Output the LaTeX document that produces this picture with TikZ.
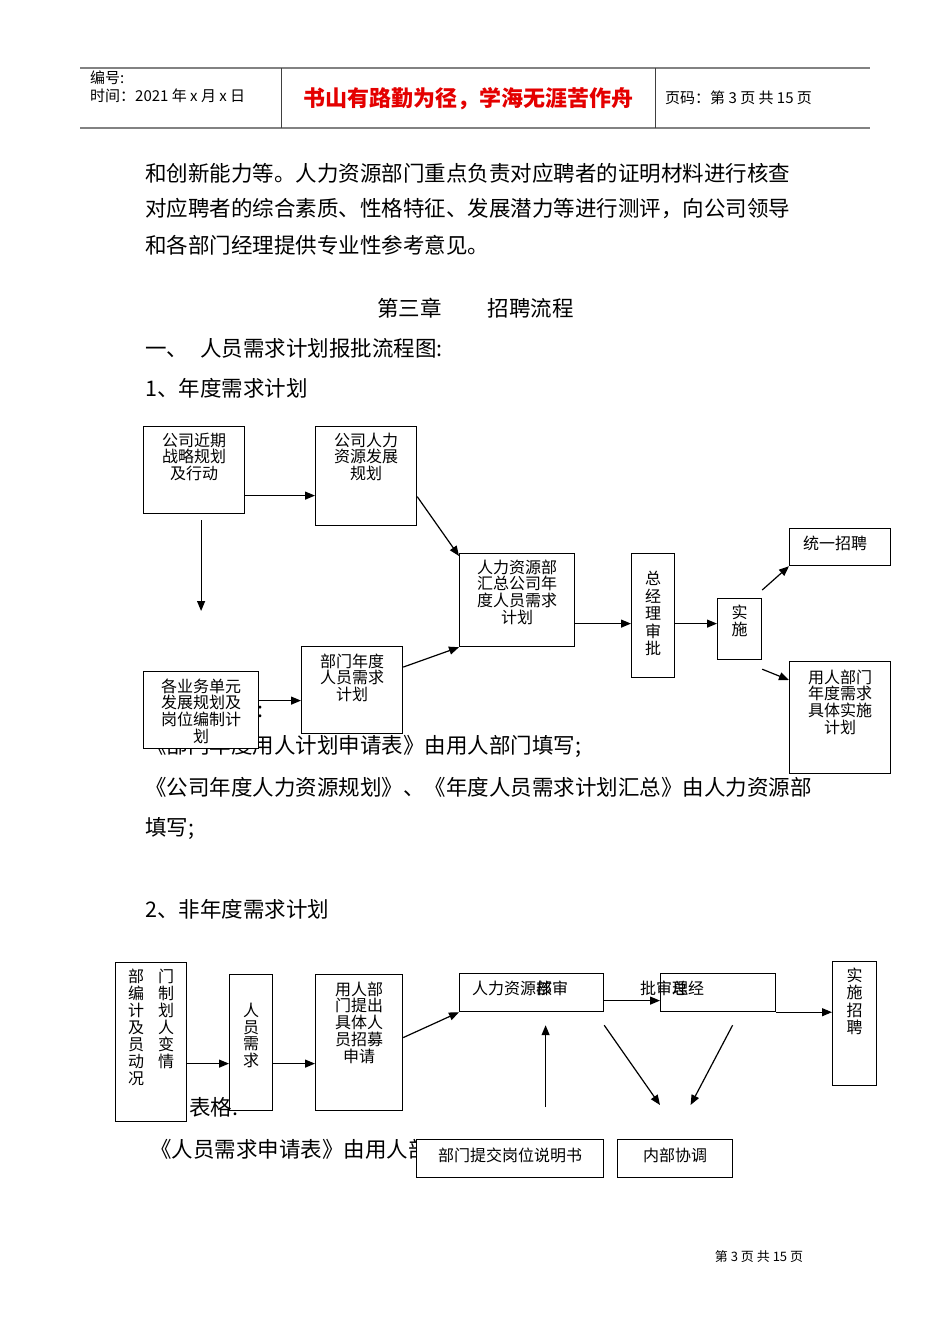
\documentclass[tikz,border=0pt]{standalone}
\usepackage{fontspec}
\setmainfont{Noto Sans CJK SC}
\usetikzlibrary{arrows.meta}
\usetikzlibrary{calc}

\definecolor{mottored}{RGB}{228,0,0}
\definecolor{rulegray}{RGB}{130,130,130}

\begin{document}
\begin{tikzpicture}[x=1pt,y=-1pt,
    body/.style={anchor=west,inner sep=0pt,font=\fontsize{21.5pt}{36pt}\selectfont},
    box/.style={draw,fill=white,line width=1.2pt,anchor=north west,inner sep=0pt},
    inbox/.style={anchor=north,align=center,inner sep=0pt,font=\fontsize{16pt}{16.7pt}\selectfont},
    upright/.style={inbox,font=\fontsize{16pt}{17.5pt}\selectfont},
    arr/.style={-{Triangle[length=10pt,width=8pt]},line width=1.2pt}]

    \fill[white] (0,0) rectangle (950,1344);
    \useasboundingbox (0,0) rectangle (950,1344);

    % page header
    \draw[rulegray,line width=2pt] (80,68) -- (870,68);
    \draw[rulegray,line width=2pt] (80,128) -- (870,128);
    \draw[darkgray,line width=1pt] (281,68) -- (281,128);
    \draw[darkgray,line width=1pt] (655,68) -- (655,128);
    \node[anchor=west,inner sep=0pt,font=\fontsize{15pt}{15pt}\selectfont] (serial) at (90,78) {编号:};
    \node[anchor=west,inner sep=0pt,font=\fontsize{15pt}{15pt}\selectfont] (datestamp) at (90,96) {时间：2021 年 x 月 x 日};
    \node[inner sep=0pt,text=mottored,font=\fontsize{22pt}{22pt}\selectfont\bfseries] (motto) at (468,99) {书山有路勤为径，学海无涯苦作舟};
    \node[anchor=west,inner sep=0pt,font=\fontsize{15pt}{15pt}\selectfont] (pageno) at (665,98) {页码：第 3 页 共 15 页};

    % running text
    \node[body] (para1) at (145,173) {和创新能力等。人力资源部门重点负责对应聘者的证明材料进行核查};
    \node[body] (para2) at (145,209) {对应聘者的综合素质、性格特征、发展潜力等进行测评，向公司领导};
    \node[body] (para3) at (145,245) {和各部门经理提供专业性参考意见。};
    \node[body] (chapter) at (377,308) {第三章\hspace{46pt}招聘流程};
    \node[body] (section) at (145,348) {一、\hspace{12pt}人员需求计划报批流程图:};
    \node[body] (item1) at (145,388) {1、年度需求计划};
    \node[body,anchor=east] (tablenote1) at (264,709) {表格:};
    \node[body] (form1) at (145,746) {《部门年度用人计划申请表》由用人部门填写;};
    \node[body] (form2) at (145,787) {《公司年度人力资源规划》、《年度人员需求计划汇总》由人力资源部};
    \node[body] (form3) at (145,829) {填写;};
    \node[body] (item2) at (145,909) {2、非年度需求计划};
    \node[body] (form4) at (150,1150) {《人员需求申请表》由用人部门填写;};

    % annual plan
    \node[box,minimum width=101pt,minimum height=87pt,
        label={[inbox,yshift=-6.5pt]north:公司近期\\战略规划\\及行动}] (strategy) at (143,426) {};
    \node[box,minimum width=101pt,minimum height=99pt,
        label={[inbox,yshift=-6.5pt]north:公司人力\\资源发展\\规划}] (hrplan) at (315,426) {};
    \node[box,minimum width=115pt,minimum height=77pt,
        label={[inbox,yshift=-7.5pt]north:各业务单元\\发展规划及\\岗位编制计\\划}] (unitplan) at (143,671) {};
    \node[box,minimum width=101pt,minimum height=87pt,
        label={[inbox,yshift=-7.5pt]north:部门年度\\人员需求\\计划}] (deptneed) at (301,646) {};
    \node[box,minimum width=115pt,minimum height=93pt,
        label={[inbox,yshift=-6.5pt]north:人力资源部\\汇总公司年\\度人员需求\\计划}] (hrsum) at (459,553) {};
    \node[box,minimum width=43pt,minimum height=124pt,
        label={[upright,yshift=-18pt]north:总\\经\\理\\审\\批}] (gmapprove) at (631,553) {};
    \node[box,minimum width=44pt,minimum height=61pt,
        label={[upright,yshift=-6.5pt]north:实\\施}] (implement) at (717,598) {};
    \node[box,minimum width=101pt,minimum height=37pt,
        label={[inbox,xshift=-5pt,yshift=-7.5pt]north:统一招聘}] (unified) at (789,528) {};
    \node[box,minimum width=101pt,minimum height=112pt,
        label={[inbox,yshift=-8.5pt]north:用人部门\\年度需求\\具体实施\\计划}] (deptimpl) at (789,661) {};

    \draw[arr] ($(strategy.east)+(0,25.5)$) -- ($(strategy.east -| hrplan.west)+(0,25.5)$);
    \draw[arr] ($(strategy.south -| unitplan.north)+(0,6)$) -- ($(unitplan.north)+(0,-60)$);
    \draw[arr] ($(unitplan.east)+(0,-9.5)$) -- ($(unitplan.east -| deptneed.west)+(0,-9.5)$);
    \draw[arr] ($(hrplan.east)+(0,20.5)$) -- ($(hrsum.north west)+(0,3)$);
    \draw[arr] ($(deptneed.east)+(0,-23)$) -- (hrsum.south west);
    \draw[arr] ($(hrsum.east)+(0,23.5)$) -- ($(hrsum.east -| gmapprove.west)+(0,23.5)$);
    \draw[arr] ($(gmapprove.east)+(0,8)$) -- ($(gmapprove.east -| implement.west)+(0,8)$);
    \draw[arr] ($(implement.north east)+(0,-8)$) -- (unified.south west);
    \draw[arr] ($(implement.south east)+(0,9)$) -- ($(deptimpl.north west)+(0,19)$);

    % non-annual plan
    \node[box,minimum width=71pt,minimum height=159pt,
        label={[upright,anchor=north west,align=left,font=\fontsize{16pt}{17pt}\selectfont,xshift=13pt,yshift=-6.5pt]north west:部\hspace{14pt}门\\编\hspace{14pt}制\\计\hspace{14pt}划\\及\hspace{14pt}人\\员\hspace{14pt}变\\动\hspace{14pt}情\\况}] (status) at (115,962) {};
    \node[box,minimum width=43pt,minimum height=136pt,
        label={[upright,font=\fontsize{16pt}{16.5pt}\selectfont,yshift=-29pt]north:人\\员\\需\\求}] (demand) at (229,974) {};
    \node[box,minimum width=87pt,minimum height=136pt,
        label={[inbox,yshift=-7.5pt]north:用人部\\门提出\\具体人\\员招募\\申请}] (apply) at (315,974) {};
    \node[box,minimum width=144pt,minimum height=38pt,
        label={[inbox,anchor=west,xshift=13pt,yshift=4pt]west:人力资源\rlap{部}核审}] (hrcheck) at (459,973) {};
    \node[box,minimum width=115pt,minimum height=38pt,
        label={[inbox,anchor=west,xshift=-20pt,yshift=4pt]west:批审\rlap{总}理经}] (gmcheck) at (660,973) {};
    \node[box,minimum width=44pt,minimum height=124pt,
        label={[upright,yshift=-6.5pt]north:实\\施\\招\\聘}] (recruit) at (832,961) {};
    \node[box,minimum width=187pt,minimum height=38pt,
        label={[inbox,yshift=-8.5pt]north:部门提交岗位说明书}] (jobdesc) at (416,1139) {};
    \node[box,minimum width=115pt,minimum height=38pt,
        label={[inbox,yshift=-8.5pt]north:内部协调}] (internal) at (617,1139) {};

    \draw[arr] ($(status.east)+(0,21.5)$) -- ($(status.east -| demand.west)+(0,21.5)$);
    \draw[arr] ($(demand.east)+(0,21)$) -- ($(demand.east -| apply.west)+(0,21)$);
    \draw[arr] ($(apply.east)+(0,-5)$) -- (hrcheck.south west);
    \draw[arr] ($(hrcheck.east)+(0,8)$) -- ($(hrcheck.east -| gmcheck.west)+(0,8)$);
    \draw[arr] (gmcheck.south east) -- (gmcheck.south east -| recruit.west);
    \draw[arr] ($(jobdesc.north)+(35.5,-32)$) -- ($(hrcheck.south)+(14,13)$);
    \draw[arr] ($(hrcheck.south east)+(0,13)$) -- ($(internal.north west)+(43,-34)$);
    \draw[arr] ($(gmcheck.south)+(14.5,13)$) -- ($(internal.north)+(15.5,-34)$);

    \node[body] (tablenote2) at (189,1107) {表格.};

    % page footer
    \node[inner sep=0pt,font=\fontsize{13pt}{13pt}\selectfont] (footer) at (759,1257) {第 3 页 共 15 页};
\end{tikzpicture}
\end{document}
